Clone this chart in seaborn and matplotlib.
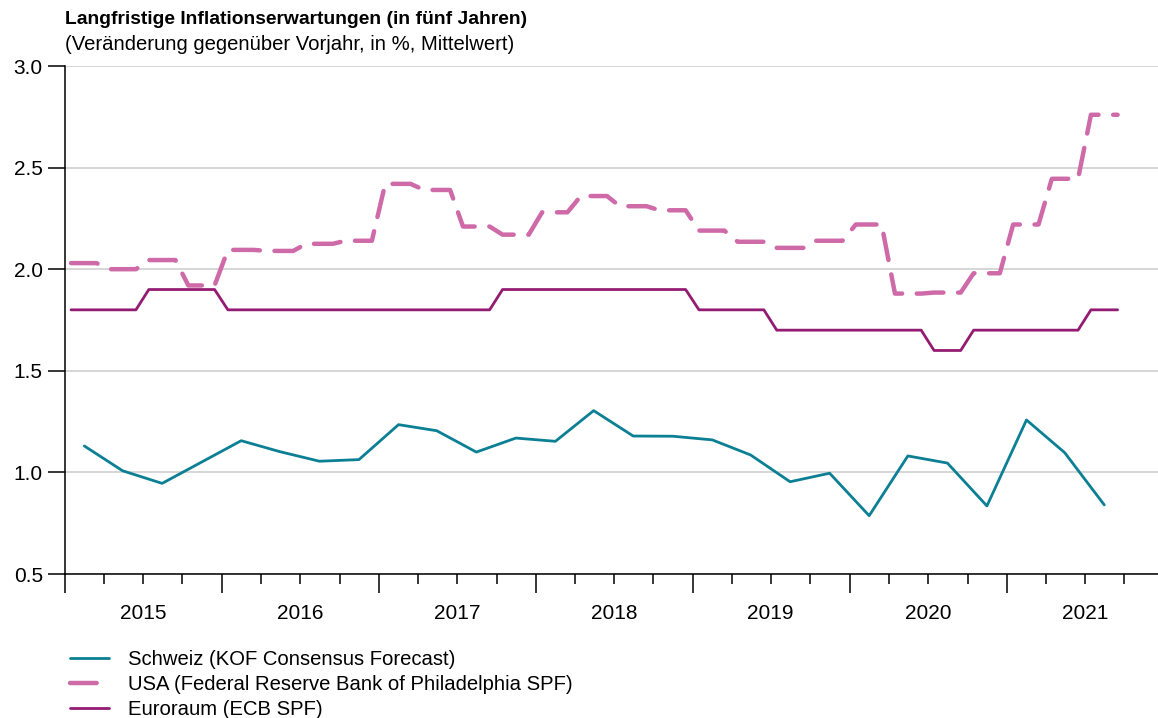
import numpy as np
import pandas as pd
import matplotlib.pyplot as plt
import matplotlib.dates as mdates
import matplotlib.transforms as mtransforms
import seaborn as sns

sns.set_style('ticks')
plt.rcParams['font.family'] = ['Liberation Sans', 'DejaVu Sans']
plt.rcParams['text.color'] = 'black'
plt.rcParams['xtick.color'] = 'black'
plt.rcParams['ytick.color'] = 'black'

# Monthly values (each survey value is held until the next survey round)
months = pd.date_range('2015-01-01', '2021-09-01', freq='MS') + pd.Timedelta(days=14)

usa = [2.03, 2.03, 2.03, 2.00, 2.00, 2.00, 2.045, 2.045, 2.045, 1.92, 1.92, 1.92,
       2.095, 2.095, 2.095, 2.09, 2.09, 2.09, 2.125, 2.125, 2.125, 2.14, 2.14, 2.14,
       2.42, 2.42, 2.42, 2.39, 2.39, 2.39, 2.21, 2.21, 2.21, 2.17, 2.17, 2.17,
       2.28, 2.28, 2.28, 2.36, 2.36, 2.36, 2.31, 2.31, 2.31, 2.29, 2.29, 2.29,
       2.19, 2.19, 2.19, 2.135, 2.135, 2.135, 2.105, 2.105, 2.105, 2.14, 2.14, 2.14,
       2.22, 2.22, 2.22, 1.88, 1.88, 1.88, 1.885, 1.885, 1.885, 1.98, 1.98, 1.98,
       2.22, 2.22, 2.22, 2.445, 2.445, 2.445, 2.76, 2.76, 2.76]

euro = [1.8, 1.8, 1.8, 1.8, 1.8, 1.8, 1.9, 1.9, 1.9, 1.9, 1.9, 1.9,
        1.8, 1.8, 1.8, 1.8, 1.8, 1.8, 1.8, 1.8, 1.8, 1.8, 1.8, 1.8,
        1.8, 1.8, 1.8, 1.8, 1.8, 1.8, 1.8, 1.8, 1.8, 1.9, 1.9, 1.9,
        1.9, 1.9, 1.9, 1.9, 1.9, 1.9, 1.9, 1.9, 1.9, 1.9, 1.9, 1.9,
        1.8, 1.8, 1.8, 1.8, 1.8, 1.8, 1.7, 1.7, 1.7, 1.7, 1.7, 1.7,
        1.7, 1.7, 1.7, 1.7, 1.7, 1.7, 1.6, 1.6, 1.6, 1.7, 1.7, 1.7,
        1.7, 1.7, 1.7, 1.7, 1.7, 1.7, 1.8, 1.8, 1.8]

# KOF Consensus Forecast, quarterly (Feb, May, Aug, Nov)
ch_dates = pd.date_range('2015-02-01', '2021-08-01', freq='3MS') + pd.Timedelta(days=14)
schweiz = [1.13, 1.008, 0.946, 1.051,
           1.156, 1.102, 1.055, 1.063,
           1.235, 1.205, 1.100, 1.169,
           1.153, 1.304, 1.179, 1.178,
           1.160, 1.086, 0.954, 0.996,
           0.787, 1.081, 1.046, 0.835,
           1.258, 1.097, 0.840]

years = [2015, 2016, 2017, 2018, 2019, 2020, 2021]
labels = ['Schweiz (KOF Consensus Forecast)',
          'USA (Federal Reserve Bank of Philadelphia SPF)',
          'Euroraum (ECB SPF)']
colors = ['#0b7f94', '#cf6aa8', '#931b72']

W, H = 1158, 718
fig = plt.figure(figsize=(W / 100, H / 100), dpi=100)
ax = fig.add_axes([65 / W, 1 - 574 / H, 1 - 65 / W, (574 - 66) / H])

sns.lineplot(x=ch_dates, y=schweiz, color=colors[0], lw=2.0, ax=ax, label=labels[0])
sns.lineplot(x=months, y=usa, color=colors[1], lw=3.2, ls=(0, (6, 3.3)),
             dash_capstyle='round', ax=ax, label=labels[1])
sns.lineplot(x=months, y=euro, color=colors[2], lw=2.0, ax=ax, label=labels[2])

# axes styling
ax.set_ylim(0.5, 3.0)
ax.set_yticks(np.arange(0.5, 3.01, 0.5))
ax.yaxis.set_major_formatter(plt.FormatStrFormatter('%.1f'))
ax.set_xlim(pd.Timestamp('2015-01-01'), pd.Timestamp('2021-12-18'))
ax.xaxis.set_major_locator(mdates.YearLocator())
ax.xaxis.set_minor_locator(mdates.MonthLocator(bymonth=[4, 7, 10]))
ax.xaxis.set_major_formatter(plt.NullFormatter())
ax.xaxis.set_minor_formatter(plt.NullFormatter())
ax.tick_params(axis='x', which='major', length=13.7, width=1.1, color='black')
ax.tick_params(axis='x', which='minor', length=7.2, width=1.1, color='black')
ax.tick_params(axis='y', length=12, width=1.1, labelsize=15, pad=4, color='black',
               labelcolor='black')
ax.grid(axis='y', color='#cccccc', lw=1.1)
ax.set_axisbelow(True)
ax.set_xlabel('')
ax.set_ylabel('')
sns.despine(ax=ax)
for s in ['left', 'bottom']:
    ax.spines[s].set_linewidth(1.1)
    ax.spines[s].set_color('black')

# year labels centred on each year
trans = mtransforms.blended_transform_factory(ax.transData, ax.transAxes)
for yr in years:
    ax.text(mdates.date2num(pd.Timestamp(f'{yr}-07-01')), -0.078, str(yr),
            transform=trans, ha='center', va='center', fontsize=15, color='black')

# title
fig.text(65 / W, 1 - 20 / H, 'Langfristige Inflationserwartungen (in fünf Jahren)',
         fontsize=13.9, fontweight='bold', va='center', ha='left', color='black')
fig.text(65 / W, 1 - 45 / H, '(Veränderung gegenüber Vorjahr, in %, Mittelwert)',
         fontsize=14.6, va='center', ha='left', color='black')

# legend below the chart
handles, labs = ax.get_legend_handles_labels()
ax.get_legend().remove()
leg = fig.legend(handles, labs, loc='upper left', bbox_to_anchor=(70 / W, 1 - 650 / H),
                 frameon=False, fontsize=14.6, handlelength=1.9, handletextpad=0.95,
                 labelspacing=0.3, borderpad=0, borderaxespad=0)
for t in leg.get_texts():
    t.set_color('black')

fig.savefig('out.png', dpi=100)
